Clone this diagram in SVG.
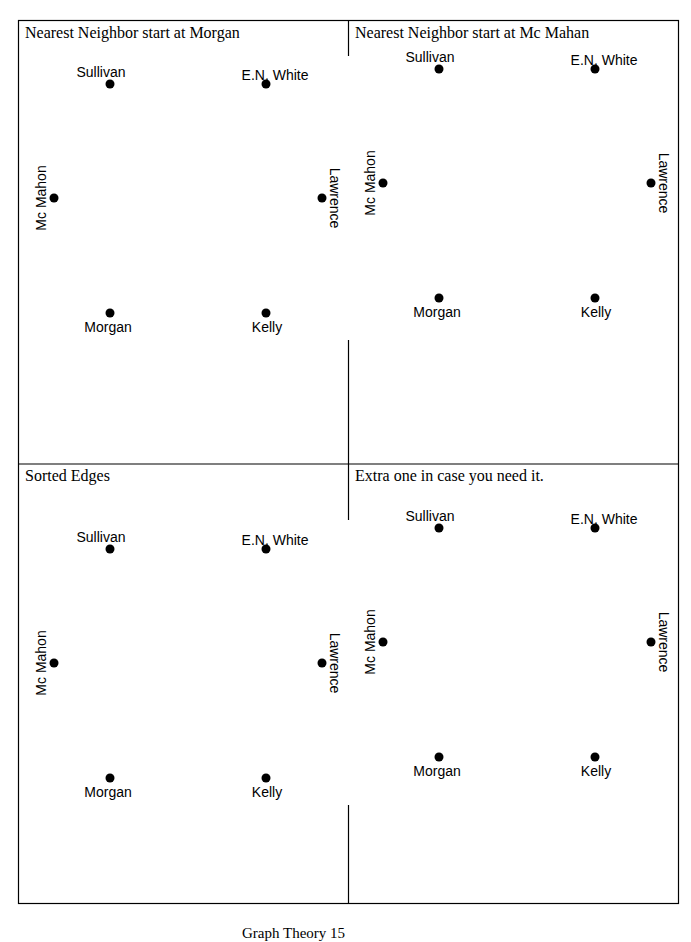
<svg xmlns="http://www.w3.org/2000/svg" width="691" height="942" viewBox="0 0 691 942">
<style>
.t{font-family:"Liberation Serif",serif;font-size:16px;fill:#000}
.l{font-family:"Liberation Sans",sans-serif;font-size:14px;fill:#000}
.ln{stroke:#000;stroke-width:1.2;fill:none}
</style>
<defs>
<g id="g">
<circle cx="0" cy="0" r="4.5"/><text class="l" x="-9" y="-7" text-anchor="middle">Sullivan</text>
<circle cx="156" cy="0" r="4.5"/><text class="l" x="165" y="-4" text-anchor="middle">E.N. White</text>
<circle cx="-56" cy="114" r="4.5"/><text class="l" transform="translate(-64,114) rotate(-90)" text-anchor="middle">Mc Mahon</text>
<circle cx="212" cy="114" r="4.5"/><text class="l" transform="translate(220,114) rotate(90)" text-anchor="middle">Lawrence</text>
<circle cx="0" cy="229" r="4.5"/><text class="l" x="-2" y="248" text-anchor="middle">Morgan</text>
<circle cx="156" cy="229" r="4.5"/><text class="l" x="157" y="248" text-anchor="middle">Kelly</text>
</g>
</defs>
<g id="frame">
<rect class="ln" x="18.5" y="20.5" width="660" height="883"/>
<line class="ln" x1="18" y1="464" x2="679" y2="464"/>
<line class="ln" x1="348.5" y1="20" x2="348.5" y2="56"/>
<line class="ln" x1="348.5" y1="340" x2="348.5" y2="520"/>
<line class="ln" x1="348.5" y1="805" x2="348.5" y2="903"/>
</g>
<g id="titles">
<text class="t" x="25" y="38">Nearest Neighbor start at Morgan</text>
<text class="t" x="355" y="38">Nearest Neighbor start at Mc Mahan</text>
<text class="t" x="25" y="481">Sorted Edges</text>
<text class="t" x="355" y="481">Extra one in case you need it.</text>
<text class="t" x="242" y="938" style="font-size:15px">Graph Theory  15</text>
</g>
<g id="p1"><use href="#g" x="110" y="84"/></g>
<g id="p2"><use href="#g" x="439" y="69"/></g>
<g id="p3"><use href="#g" x="110" y="549"/></g>
<g id="p4"><use href="#g" x="439" y="528"/></g>
<g id="connectors"/>
</svg>
